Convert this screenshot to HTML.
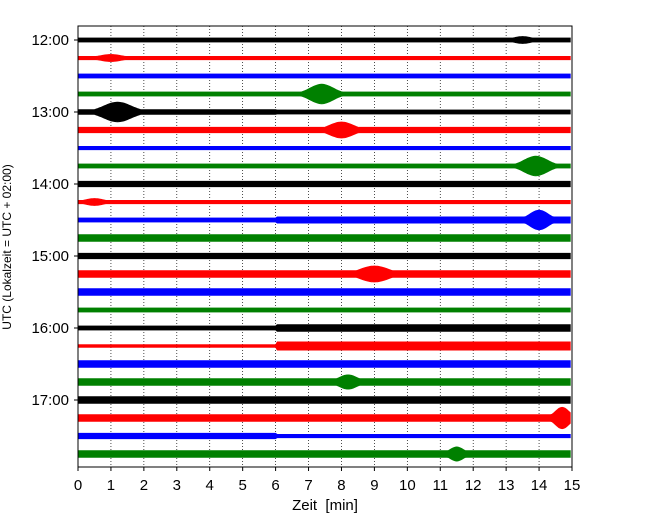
<!DOCTYPE html>
<html><head><meta charset="utf-8"><style>
body{margin:0;background:#fff;}
svg{display:block;font-family:"Liberation Sans","DejaVu Sans",sans-serif;}
</style></head><body>
<svg id="chart" width="650" height="520">
<g id="grid"></g>
<g id="traces"></g>
<rect x="78" y="26" width="494" height="441" fill="none" stroke="#000" stroke-width="1"/>
<g id="yticks"></g>
<g id="xticks"></g>
<text x="325" y="510" font-size="15" text-anchor="middle" xml:space="preserve">Zeit  [min]</text>
<text transform="translate(11,247) rotate(-90)" font-size="12" text-anchor="middle">UTC (Lokalzeit = UTC + 02:00)</text>
</svg>
<script>
const xTicks=[0,1,2,3,4,5,6,7,8,9,10,11,12,13,14,15];
const yTickLabels=["12:00","13:00","14:00","15:00","16:00","17:00"];
const colors=["#000","red","blue","green"];
// base half-amplitude (px) before minute 6 and after minute 6, per trace
const baseBefore=[3,2.5,3,3,3.5,4,2.5,3,4,2.5,3,5,4,5,5,3,3,2,5,5,5,5,4,5];
const baseAfter =[3,2.5,3,3,3,4,2.5,3,4,2.5,4.5,5,4,5,5,3,5,6,5,5,5,5,2.5,5];
// events: [traceIndex, centerMinute, peakHalfAmp, widthMinutes]
const events=[[0,13.5,4,0.4],[1,1,4,0.5],[3,7.4,11,0.5],[4,1.2,11,0.6],[5,8,9,0.5],[7,13.9,11,0.5],[9,0.5,4,0.4],[10,14,11,0.4],[13,9,9,0.6],[19,8.2,8,0.4],[21,14.7,12,0.3],[23,11.5,8,0.3]];
const baseScale=0.7, eventScale=0.9;
const x=m=>78+m*494/15;
const yTrace=i=>40+i*18;
const NS="http://www.w3.org/2000/svg";
function el(t,a,p){const e=document.createElementNS(NS,t);for(const k in a)e.setAttribute(k,a[k]);p.appendChild(e);return e;}
const grid=document.getElementById('grid'),xt=document.getElementById('xticks'),yt=document.getElementById('yticks'),tr=document.getElementById('traces');
xTicks.forEach(m=>{
  if(m>0&&m<15){const g=el('line',{x1:x(m),x2:x(m),y1:26,y2:467,stroke:'#000','stroke-width':0.7,'stroke-dasharray':'1,2'},grid);
  
  }
  const t=el('line',{x1:x(m),x2:x(m),y1:467,y2:471,stroke:'#000'},xt);
  
  
  const l=el('text',{x:x(m),y:490,'font-size':15,'text-anchor':'middle'},xt);l.textContent=m;
  
  
});
yTickLabels.forEach((s,k)=>{
  const y=yTrace(k*4);
  const t=el('line',{x1:74,x2:78,y1:y,y2:y,stroke:'#000'},yt);
  
  
  const l=el('text',{x:69,y:y+5,'font-size':15,'text-anchor':'end'},yt);l.textContent=s;
  
  
});
for(let i=0;i<24;i++){
  const y0=yTrace(i);const top=[],bot=[];
  for(let m=0;m<=15;m+=0.05){
    let a=(m<6?baseBefore[i]:baseAfter[i])*baseScale;
    events.forEach(e=>{if(e[0]===i){const d=(m-e[1])/e[3];a=Math.max(a,e[2]*eventScale*Math.exp(-d*d));}});
    top.push(x(m).toFixed(1)+','+(y0-a).toFixed(1));
    bot.unshift(x(m).toFixed(1)+','+(y0+a).toFixed(1));
  }
  const p=el('polygon',{points:top.concat(bot).join(' '),fill:colors[i%4],stroke:colors[i%4],'stroke-width':0.6},tr);
  
  
}
</script>
</body></html>
